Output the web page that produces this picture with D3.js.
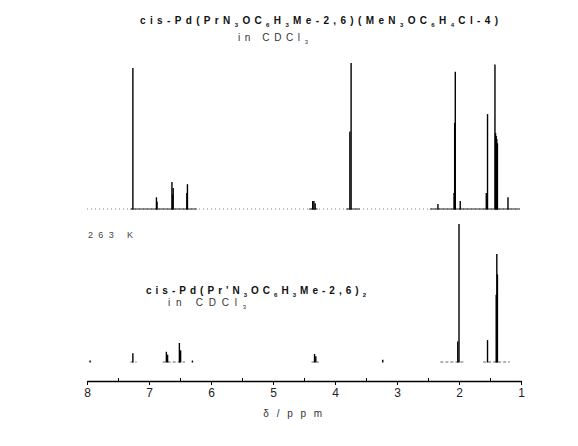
<!DOCTYPE html>
<html>
<head>
<meta charset="utf-8">
<script src="https://cdn.jsdelivr.net/npm/d3@7"></script>
<style>
  body { margin: 0; background: #fff; }
  svg { display: block; font-family: "Liberation Sans", Arial, sans-serif; }
</style>
</head>
<body>
<div id="chart"></div>
<script>
const width = 578;
const height = 446;

// upper spectrum: mixed complex, peaks as [ppm, intensity]
const upperPpm = [7.26, 6.88, 6.87, 6.63, 6.62, 6.61, 6.39, 6.38, 4.36, 4.34, 4.32,
  3.76, 3.74, 2.34, 2.08, 2.07, 2.06, 1.98, 1.56, 1.54, 1.42, 1.41, 1.40, 1.39, 1.38, 1.21];
const upperInt = [96.6, 8, 5, 18.5, 10, 14.4, 11, 17, 5.5, 5.5, 4,
  53, 100, 3.4, 11, 59, 94, 5.5, 11, 65, 99, 52, 50, 48, 45, 8];

// lower spectrum: bis complex at 263 K
const lowerPpm = [7.95, 7.26, 6.72, 6.70, 6.51, 6.49, 6.30, 4.33, 4.31, 3.23,
  2.02, 2.00, 1.54, 1.40, 1.39, 1.38];
const lowerInt = [1, 6, 7, 5, 13, 8, 1, 5.5, 4, 1.5,
  14, 94.5, 15, 46, 74, 60];

// baseline pieces that print solid, in ppm
const upperSolid = [[7.3, 6.23], [4.42, 4.28], [3.82, 3.6], [2.47, 1.02]];
const lowerSolid = [[7.3, 7.2], [6.78, 6.42], [4.38, 4.26], [2.3, 1.9], [1.61, 1.18]];

const majorTicks = [8, 7, 6, 5, 4, 3, 2, 1];
const minorTicks = [7.5, 6.5, 5.5, 4.5, 3.5, 2.5, 1.5];

const svg = d3.select("#chart").append("svg")
  .attr("width", width)
  .attr("height", height);

const x = d3.scaleLinear().domain([8, 1]).range([87, 521]);
const yUp = d3.scaleLinear().domain([0, 100]).range([209, 63]);
const yLow = d3.scaleLinear().domain([0, 100]).range([362, 216]);

function drawSpectrum(ppm, inten, solid, y, dotted) {
  const g = svg.append("g");
  // faint dotted baseline over the full range
  if (dotted) {
    g.append("line")
      .attr("x1", x(8)).attr("x2", x(1.02))
      .attr("y1", y(0)).attr("y2", y(0))
      .attr("stroke", "#888")
      .attr("stroke-width", 1)
      .attr("stroke-dasharray", "1,3");
  }
  g.selectAll("line.base")
    .data(solid)
    .enter()
    .append("line")
    .attr("class", "base")
    .attr("x1", d => x(d[0]))
    .attr("x2", d => x(d[1]))
    .attr("y1", y(0)).attr("y2", y(0))
    .attr("stroke", dotted ? "#222" : "#666")
    .attr("stroke-dasharray", dotted ? null : "3,2")
    .attr("stroke-width", 1);
  g.selectAll("line.peak")
    .data(d3.range(ppm.length))
    .enter()
    .append("line")
    .attr("class", "peak")
    .attr("x1", i => x(ppm[i]))
    .attr("x2", i => x(ppm[i]))
    .attr("y1", y(0) + 0.5)
    .attr("y2", i => y(inten[i]))
    .attr("stroke", "#000")
    .attr("stroke-width", 1.4);
}

drawSpectrum(upperPpm, upperInt, upperSolid, yUp, true);
drawSpectrum(lowerPpm, lowerInt, lowerSolid, yLow, false);

// axis: major ticks down, minor ticks up
const axisY = 381;
svg.append("g")
  .attr("transform", "translate(0," + axisY + ")")
  .call(d3.axisBottom(x).tickValues(majorTicks).tickSize(4).tickSizeOuter(0).tickFormat(d3.format("d")))
  .call(g => g.select(".domain").attr("stroke", "#000").attr("stroke-width", 1.3))
  .call(g => g.selectAll("text").attr("font-size", 12).attr("fill", "#222").attr("font-family", "Liberation Sans, Arial, sans-serif"));
svg.append("g")
  .attr("transform", "translate(0," + axisY + ")")
  .call(d3.axisTop(x).tickValues(minorTicks).tickSize(3).tickFormat(""))
  .call(g => g.select(".domain").remove());

svg.append("text")
  .attr("x", 294).attr("y", 417)
  .attr("text-anchor", "middle")
  .attr("font-size", 10)
  .attr("fill", "#333")
  .attr("letter-spacing", 2.5)
  .text("δ / p p m");

// labels with subscripts; parts are [text, isSub]
function label(parts, x0, y0, len, size, bold) {
  const t = svg.append("text")
    .attr("x", x0).attr("y", y0)
    .attr("font-size", size)
    .attr("font-weight", bold ? "bold" : "normal")
    .attr("fill", bold ? "#111" : "#333")
    .attr("textLength", len)
    .attr("lengthAdjust", "spacing");
  parts.forEach(p => {
    t.append("tspan")
      .attr("font-size", p[1] ? size * 0.6 : size)
      .attr("baseline-shift", p[1] ? -3 : null)
      .text(p[0]);
  });
}

label([["cis-Pd(PrN", 0], ["3", 1], ["OC", 0], ["6", 1], ["H", 0], ["3", 1], ["Me-2,6)(MeN", 0],
  ["3", 1], ["OC", 0], ["6", 1], ["H", 0], ["4", 1], ["Cl-4)", 0]], 140, 24, 358, 10, true);
label([["in CDCl", 0], ["3", 1]], 238, 41, 70, 10, false);

label([["cis-Pd(Pr'N", 0], ["3", 1], ["OC", 0], ["6", 1], ["H", 0], ["3", 1], ["Me-2,6)", 0], ["2", 1]],
  146, 294, 220, 10, true);
label([["in CDCl", 0], ["3", 1]], 168, 306, 78, 10, false);

svg.append("text")
  .attr("x", 88).attr("y", 238)
  .attr("font-size", 9)
  .attr("fill", "#444")
  .attr("textLength", 45)
  .attr("lengthAdjust", "spacing")
  .text("263 K");
</script>
</body>
</html>
